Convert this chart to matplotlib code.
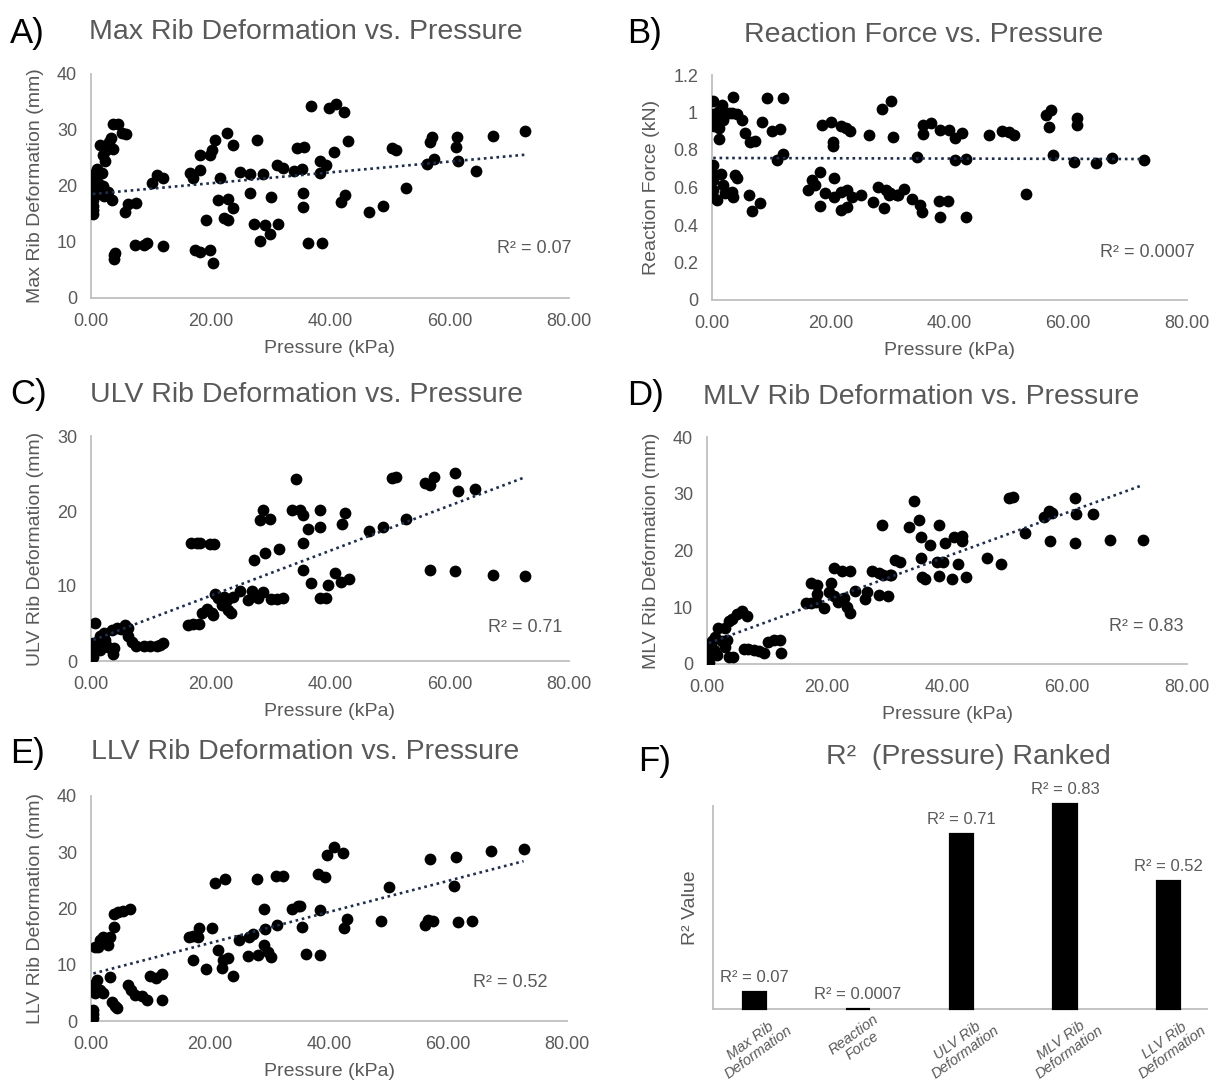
import numpy as np
import matplotlib
matplotlib.use("Agg")
import matplotlib.pyplot as plt
from matplotlib.ticker import FuncFormatter

plt.rcParams['font.family'] = ['Liberation Sans', 'DejaVu Sans']

GRAY = "#595959"
AXIS = "#bfbfbf"
TREND = "#1f2d4d"

# ---------------- data ----------------
# A) Max rib deformation (mm) vs pressure (kPa)
max_x = [0.3, 0.3, 0.4, 0.3, 0.4, 0.5, 0.3, 0.5, 0.4, 0.8, 1.0, 1.2, 1.5, 1.0, 1.8, 2.0,
         1.5, 2.0, 2.3, 2.5, 3.0, 3.3, 3.7, 3.7, 2.1, 2.9, 3.5,
         3.8, 3.9, 4.1, 4.6, 5.2, 5.9, 5.7, 6.2, 7.6, 7.3, 8.8, 9.3,
         10.2, 11.0, 12.1, 12.0,
         16.6, 17.0, 18.2, 18.2, 19.9, 20.2, 20.8, 22.7, 23.8, 21.6,
         21.3, 23.0, 23.7, 22.2, 23.0, 19.3, 17.4, 18.2, 19.9, 20.5,
         24.9, 26.6, 26.6, 27.7, 28.8, 27.2, 29.1, 29.9, 28.3, 30.2, 31.3, 31.1, 32.2, 33.9, 34.4,
         35.3, 36.9, 39.9, 41.0, 42.3, 35.6, 38.3, 39.4, 38.4, 40.7, 43.0, 35.5, 35.5, 42.5, 41.9,
         36.4, 38.6, 46.6, 48.9, 50.3, 51.0, 52.8, 56.3, 57.4, 56.7, 57.0, 61.2, 61.1, 61.5,
         64.4, 67.3, 72.7]
max_y = [15.0, 15.8, 16.5, 17.5, 18.7, 19.5, 20.2, 21.0, 21.8, 22.5, 23.0, 20.5, 19.8, 18.5, 22.3, 20.0,
         27.3, 25.5, 24.5, 26.5, 27.8, 28.5, 26.6, 31.0, 18.3, 19.0, 17.5,
         7.0, 7.7, 8.0, 31.0, 29.5, 29.3, 15.4, 16.7, 17.0, 9.4, 9.5, 9.8,
         20.5, 22.0, 21.4, 9.2,
         22.3, 21.4, 22.8, 25.5, 25.5, 26.4, 28.2, 29.4, 27.3, 21.4,
         17.5, 17.6, 16.0, 14.2, 14.0, 13.9, 8.6, 8.3, 8.6, 6.3,
         22.5, 22.2, 18.8, 28.3, 22.2, 13.3, 13.0, 11.5, 10.2, 18.0, 13.3, 23.7, 23.2, 22.6, 26.8,
         23.1, 34.2, 33.9, 34.6, 33.3, 26.9, 24.5, 23.8, 22.4, 26.1, 28.0, 18.8, 16.3, 18.4, 17.2,
         9.8, 9.9, 15.4, 16.4, 26.7, 26.4, 19.7, 23.9, 24.8, 27.9, 28.8, 28.7, 26.9, 24.5,
         22.7, 28.9, 29.9]

# B) Reaction force (kN) vs pressure (kPa)
rf_x = [0.2, 0.5, 0.3, 0.2, 1.1, 1.6, 1.1, 1.1, 1.9, 2.8, 3.6, 3.3, 4.2, 5.0, 5.6, 6.4, 7.3,
        8.5, 9.3, 10.1, 11.5, 11.9, 10.9, 11.9,
        0.2, 0.2, 0.2, 0.2, 0.2, 0.9, 1.5, 1.8, 2.2, 2.9, 3.6, 3.9, 4.2, 3.3, 6.3, 6.7, 8.1,
        18.6, 20.0, 20.3, 20.3, 21.7, 22.5, 23.2, 26.4, 28.6, 30.1, 30.4,
        16.2, 16.8, 17.4, 18.2, 18.2, 19.1, 20.5, 20.5, 21.7, 21.7, 22.8, 22.8, 23.6, 25.1,
        27.1, 27.9, 29.0, 29.3, 29.8, 31.2,
        35.6, 36.8, 35.6, 38.4, 39.9, 41.0, 42.1, 46.6, 48.9, 50.0, 50.9, 56.3, 57.1, 56.8,
        61.5, 61.4,
        34.5, 40.9, 42.7, 57.4, 61.0, 64.6, 67.4, 72.8,
        30.0, 31.3, 32.3, 33.7, 35.1, 35.4, 38.3, 39.7, 38.4, 42.8, 52.9]
rf_y = [1.06, 0.97, 0.93, 0.99, 1.01, 1.04, 0.915, 0.86, 0.96, 0.995, 1.085, 1.0, 0.99, 0.96, 0.89, 0.845, 0.85,
        0.947, 1.075, 0.90, 0.91, 1.075, 0.747, 0.777,
        0.72, 0.67, 0.64, 0.587, 0.55, 0.533, 0.67, 0.613, 0.57, 0.57, 0.55, 0.667, 0.65, 0.577, 0.56, 0.477, 0.515,
        0.933, 0.95, 0.844, 0.82, 0.928, 0.915, 0.90, 0.88, 1.017, 1.063, 0.867,
        0.587, 0.64, 0.613, 0.684, 0.50, 0.57, 0.65, 0.55, 0.577, 0.48, 0.497, 0.587, 0.55, 0.56,
        0.524, 0.604, 0.489, 0.587, 0.56, 0.56,
        0.933, 0.946, 0.885, 0.907, 0.907, 0.862, 0.893, 0.88, 0.901, 0.898, 0.88, 0.987, 1.013, 0.924,
        0.969, 0.933,
        0.764, 0.747, 0.752, 0.773, 0.738, 0.729, 0.759, 0.747,
        0.569, 0.56, 0.59, 0.537, 0.507, 0.471, 0.53, 0.53, 0.444, 0.444, 0.565]

# C) ULV rib deformation (mm) vs pressure (kPa)
ulv_x = [0.7, 0.4, 0.4, 0.4, 1.0, 1.5, 2.1, 1.5, 2.3, 2.9, 3.7, 3.9, 3.5, 4.3, 5.0, 5.7, 6.2,
         6.2, 6.8, 7.6, 8.8, 9.9, 11.0, 12.0, 11.5,
         16.3, 17.1, 18.1, 16.8, 17.7, 18.2, 19.9, 20.6, 18.5, 19.4, 20.2, 20.5, 20.8, 21.3,
         22.2, 22.7, 21.9, 23.0, 23.5, 23.8, 24.9, 26.3, 26.9, 27.2, 28.0, 28.8, 28.3, 28.8,
         30.0, 29.1, 31.4, 30.2, 31.2, 32.2, 33.6, 34.3,
         35.0, 35.4, 36.4, 35.5, 38.4, 38.4, 42.5, 42.0, 35.5, 36.9, 38.3, 39.4, 39.7, 40.8,
         41.9, 43.1, 46.6, 48.9, 52.7, 50.3, 51.0, 55.9, 56.7, 57.4, 61.0, 61.5, 64.2,
         56.7, 61.0, 67.3, 72.7]
ulv_y = [5.1, 0.6, 1.5, 2.4, 2.6, 3.3, 3.7, 1.5, 2.8, 1.9, 1.0, 1.7, 4.2, 4.4, 4.3, 4.8, 4.4,
         3.4, 2.6, 2.0, 2.0, 2.0, 2.0, 2.4, 2.1,
         4.8, 4.9, 5.0, 15.8, 15.8, 15.8, 15.6, 15.6, 6.4, 7.0, 6.4, 6.1, 9.0, 8.4,
         8.6, 8.2, 7.5, 6.8, 6.4, 8.6, 9.4, 8.2, 9.4, 13.5, 8.4, 9.2, 18.8, 20.2,
         19.0, 14.4, 15.0, 8.3, 8.3, 8.4, 20.2, 24.3,
         20.2, 19.5, 17.6, 15.8, 20.2, 17.9, 19.7, 18.3, 12.1, 10.4, 8.4, 8.4, 10.1, 11.8,
         10.6, 10.9, 17.4, 17.9, 18.9, 24.4, 24.6, 23.7, 23.5, 24.6, 25.1, 22.7, 22.9,
         12.2, 12.0, 11.5, 11.3]

# D) MLV rib deformation (mm) vs pressure (kPa)
mlv_x = [0.3, 0.3, 0.3, 0.5, 1.1, 1.7, 0.8, 1.4, 1.9, 3.0, 2.5, 3.3, 3.0, 3.6, 4.4, 3.6, 4.2,
         5.0, 5.8, 6.6, 6.1, 6.9, 7.8, 8.6, 9.5, 10.1, 11.2, 12.2, 12.3,
         16.5, 17.3, 18.1, 17.3, 18.3, 18.4, 19.5, 20.6, 20.3, 21.1, 22.5, 23.9, 21.1, 21.9,
         22.8, 23.3, 23.9, 24.7, 26.4, 26.7, 27.5, 28.6, 29.4, 29.2, 28.6, 30.2, 30.5,
         31.4, 32.2, 30.6,
         34.5, 35.3, 33.6, 35.6, 38.6, 37.1, 39.7, 41.1, 42.5, 42.5, 35.7, 38.3, 39.4, 41.9,
         35.8, 36.4, 38.6, 40.8, 43.2, 46.7, 49.0, 50.3, 51.0, 53.0, 56.2, 57.0, 57.5, 57.1,
         61.3, 61.5, 61.3, 64.4, 67.1, 72.7]
mlv_y = [0.4, 1.6, 2.8, 3.4, 2.4, 1.6, 4.0, 4.7, 6.4, 6.4, 4.0, 4.2, 3.0, 1.3, 1.2, 7.6, 8.0,
         8.8, 9.4, 8.5, 2.6, 2.6, 2.5, 2.3, 2.0, 3.9, 4.2, 4.3, 1.9,
         10.7, 10.8, 11.0, 14.2, 14.0, 12.4, 9.8, 14.2, 12.7, 17.0, 16.3, 16.3, 11.9, 11.0,
         11.6, 10.1, 9.0, 12.9, 11.4, 12.7, 16.3, 16.0, 15.7, 24.5, 12.1, 11.9, 15.7,
         18.3, 17.9, 15.7,
         28.8, 25.3, 24.2, 22.4, 24.5, 20.9, 21.4, 22.4, 22.6, 21.6, 18.6, 18.0, 18.0, 17.6,
         15.3, 14.9, 15.5, 14.9, 15.3, 18.6, 17.6, 29.2, 29.5, 23.0, 25.9, 26.9, 26.6, 21.6,
         29.2, 26.4, 21.3, 26.4, 21.9, 21.9]

# E) LLV rib deformation (mm) vs pressure (kPa)
llv_x = [0.4, 0.4, 0.4, 0.7, 1.2, 1.5, 2.1, 2.6, 2.9, 3.2, 3.8, 3.8, 4.6, 5.4, 6.6,
         0.4, 1.0, 0.7, 1.5, 2.1, 3.2, 3.5, 4.0, 4.3, 6.3, 6.8, 7.4, 8.5, 9.4, 9.9, 11.0,
         11.9, 12.0,
         16.4, 17.2, 18.2, 18.0, 20.3, 17.2, 19.3, 20.9, 22.5, 21.4, 22.1, 22.2, 23.1, 23.8,
         24.8, 26.4, 26.6, 27.2, 27.9, 28.1, 29.0, 29.0, 29.2, 29.8, 30.2, 31.1, 32.2, 31.2,
         33.7, 34.8,
         35.1, 35.5, 38.5, 36.1, 38.5, 38.2, 39.3, 39.7, 40.9, 42.3, 43.1, 42.5, 48.8, 50.1,
         56.1, 56.7, 57.5, 56.9, 61.3, 61.0, 61.6, 64.1, 67.3, 72.7]
llv_y = [0.5, 1.3, 1.9, 13.2, 13.2, 14.4, 15.0, 14.4, 13.5, 15.0, 16.8, 19.1, 19.3, 19.6, 19.9,
         6.4, 7.3, 4.9, 5.5, 4.9, 7.8, 3.3, 2.6, 2.3, 6.4, 5.5, 4.6, 4.4, 3.7, 8.0, 7.6,
         8.4, 3.7,
         14.9, 15.1, 16.5, 15.0, 16.6, 10.9, 9.2, 24.5, 25.2, 12.7, 9.4, 10.9, 11.2, 8.0,
         14.4, 11.6, 14.9, 15.5, 25.2, 11.7, 19.9, 13.5, 16.4, 12.2, 11.4, 25.7, 25.7, 17.1,
         19.9, 20.4,
         20.5, 16.8, 19.7, 12.0, 11.7, 26.2, 25.6, 29.6, 30.9, 29.8, 18.1, 16.6, 17.8, 23.8,
         17.1, 18.0, 17.8, 28.8, 29.2, 24.0, 17.6, 17.8, 30.3, 30.5]

# F) R² ranking
rank_labels = ["Max Rib\nDeformation", "Reaction\nForce", "ULV Rib\nDeformation",
               "MLV Rib\nDeformation", "LLV Rib\nDeformation"]
rank_r2 = [0.07, 0.0007, 0.71, 0.83, 0.52]
rank_text = ["R² = 0.07", "R² = 0.0007", "R² = 0.71", "R² = 0.83", "R² = 0.52"]

# ---------------- layout helpers ----------------
W, H = 1214, 1085
fig = plt.figure(figsize=(W / 100, H / 100), dpi=100)


def rect(l, r, t, b):
    return [l / W, 1 - b / H, (r - l) / W, (b - t) / H]


def ftext(x, y, s, **kw):
    fig.text(x / W, 1 - y / H, s, **kw)


def style(ax):
    for side in ["top", "right"]:
        ax.spines[side].set_visible(False)
    for side in ["left", "bottom"]:
        ax.spines[side].set_color(AXIS)
        ax.spines[side].set_linewidth(1.3)
    ax.tick_params(length=0, colors=GRAY, labelsize=13)
    ax.tick_params(axis="y", pad=10)
    ax.tick_params(axis="x", pad=11)


def scatter_panel(box, xs, ys, ylim, yticks, ylabel, r2, r2pos, yfmt=None):
    ax = fig.add_axes(rect(*box))
    style(ax)
    xs = np.array(xs)
    ys = np.array(ys)
    ax.scatter(xs, ys, s=72, color="black", zorder=3, linewidths=0)
    k, b = np.polyfit(xs, ys, 1)
    xl = np.array([xs.min(), xs.max()])
    ax.plot(xl, k * xl + b, color=TREND, lw=1.9, linestyle=(0, (1, 1.4)), zorder=4)
    ax.set_xlim(0, 80)
    ax.set_ylim(*ylim)
    ax.set_xticks([0, 20, 40, 60, 80])
    ax.xaxis.set_major_formatter(FuncFormatter(lambda v, p: f"{v:.2f}"))
    ax.set_yticks(yticks)
    if yfmt:
        ax.yaxis.set_major_formatter(FuncFormatter(yfmt))
    ax.set_xlabel("Pressure (kPa)", fontsize=14, color=GRAY, labelpad=7)
    ax.set_ylabel(ylabel, fontsize=14, color=GRAY, labelpad=9)
    ax.text(r2pos[0], r2pos[1], r2, transform=ax.transAxes, ha="right", va="center",
            fontsize=13, color=GRAY)
    return ax


def rf_fmt(v, p):
    return f"{v:g}"


scatter_panel((91, 569, 74, 298), max_x, max_y, (0, 40), [0, 10, 20, 30, 40],
              "Max Rib Deformation (mm)", "R² = 0.07", (1.006, 0.219))
scatter_panel((712, 1187, 75, 300), rf_x, rf_y, (0, 1.2), [0, 0.2, 0.4, 0.6, 0.8, 1.0, 1.2],
              "Reaction Force (kN)", "R² = 0.0007", (1.017, 0.209), yfmt=rf_fmt)
scatter_panel((91, 569, 436, 661), ulv_x, ulv_y, (0, 30), [0, 10, 20, 30],
              "ULV Rib Deformation (mm)", "R² = 0.71", (0.987, 0.151))
scatter_panel((707, 1187, 437, 664), mlv_x, mlv_y, (0, 40), [0, 10, 20, 30, 40],
              "MLV Rib Deformation (mm)", "R² = 0.83", (0.992, 0.167))
scatter_panel((91, 567, 796, 1021), llv_x, llv_y, (0, 40), [0, 10, 20, 30, 40],
              "LLV Rib Deformation (mm)", "R² = 0.52", (0.96, 0.173))

# ---------------- F) bar chart ----------------
axf = fig.add_axes(rect(713, 1207, 806, 1009))
style(axf)
pos = np.arange(len(rank_r2))
bars = axf.bar(pos, rank_r2, width=0.225, color="black", edgecolor="black",
               linewidth=1.6, clip_on=False, zorder=3)
axf.set_xlim(-0.4, 4.37)
axf.set_ylim(0, 0.822)
axf.set_yticks([])
axf.set_xticks(pos)
axf.set_xticklabels(rank_labels, rotation=36, ha="center", va="top", fontsize=10.5,
                    style="italic", color=GRAY, linespacing=1.0)
axf.tick_params(axis="x", pad=2)
axf.set_ylabel("R² Value", fontsize=14, color=GRAY, labelpad=10)
for bar, txt in zip(bars, rank_text):
    axf.annotate(txt, (bar.get_x() + bar.get_width() / 2, bar.get_height()),
                 xytext=(0, 5), textcoords="offset points", ha="center", va="bottom",
                 fontsize=12, color=GRAY, annotation_clip=False)

# ---------------- titles and panel letters ----------------
ttl = dict(fontsize=20.5, color=GRAY, ha="center", va="center")
ftext(306, 32, "Max Rib Deformation vs. Pressure", **ttl)
ftext(924, 35, "Reaction Force vs. Pressure", **ttl)
ftext(306, 395, "ULV Rib Deformation vs. Pressure", **ttl)
ftext(921, 397, "MLV Rib Deformation vs. Pressure", **ttl)
ftext(305, 752, "LLV Rib Deformation vs. Pressure", **ttl)
ftext(968, 757, "R²  (Pressure) Ranked", **ttl)

let = dict(fontsize=25, color="black", ha="left", va="center")
ftext(10, 33, "A)", **let)
ftext(627, 33, "B)", **let)
ftext(10, 394, "C)", **let)
ftext(627, 395, "D)", **let)
ftext(10, 753, "E)", **let)
ftext(638, 762, "F)", **let)

fig.savefig("out.png", dpi=100, facecolor="white")
